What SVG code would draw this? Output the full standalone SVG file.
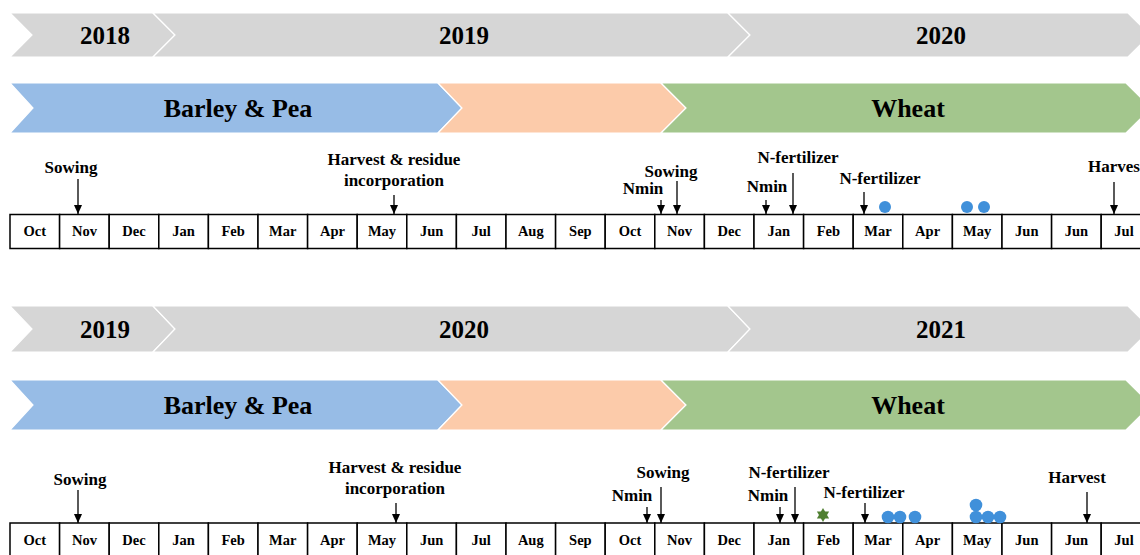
<svg xmlns="http://www.w3.org/2000/svg" width="1140" height="555" viewBox="0 0 1140 555">
  <style>
    text { font-family: "Liberation Serif", "Times New Roman", serif; font-weight: bold; fill: #000; text-anchor: middle; }
    .yr { font-size: 25px; }
    .crop { font-size: 26px; }
    .lbl { font-size: 17px; }
    .mon { font-size: 14.5px; }
    .seg { stroke: #ffffff; stroke-width: 1.2; }
    .gray { fill: #d6d6d6; }
    .blue { fill: #97bce6; }
    .peach { fill: #fccbaa; }
    .green { fill: #a3c68d; }
    .cell { fill: #ffffff; stroke: #000; stroke-width: 1.5; }
    .arr { stroke: #000; stroke-width: 1.3; fill: none; marker-end: url(#ah); }
    .dot { fill: #4090da; }
    .star { fill: #4f7f30; }
  </style>
  <defs>
    <marker id="ah" markerWidth="9" markerHeight="8" refX="9" refY="4" orient="auto" markerUnits="userSpaceOnUse">
      <path d="M0,0 L9,4 L0,8 Z" fill="#000"/>
    </marker>
    <!-- one row of month cells, 49.6 px each -->
    <g id="months">
      <rect class="cell" x="10" y="0" width="49.6" height="34"/>
      <rect class="cell" x="59.6" y="0" width="49.6" height="34"/>
      <rect class="cell" x="109.2" y="0" width="49.6" height="34"/>
      <rect class="cell" x="158.8" y="0" width="49.6" height="34"/>
      <rect class="cell" x="208.4" y="0" width="49.6" height="34"/>
      <rect class="cell" x="258" y="0" width="49.6" height="34"/>
      <rect class="cell" x="307.6" y="0" width="49.6" height="34"/>
      <rect class="cell" x="357.2" y="0" width="49.6" height="34"/>
      <rect class="cell" x="406.8" y="0" width="49.6" height="34"/>
      <rect class="cell" x="456.4" y="0" width="49.6" height="34"/>
      <rect class="cell" x="506" y="0" width="49.6" height="34"/>
      <rect class="cell" x="555.6" y="0" width="49.6" height="34"/>
      <rect class="cell" x="605.2" y="0" width="49.6" height="34"/>
      <rect class="cell" x="654.8" y="0" width="49.6" height="34"/>
      <rect class="cell" x="704.4" y="0" width="49.6" height="34"/>
      <rect class="cell" x="754" y="0" width="49.6" height="34"/>
      <rect class="cell" x="803.6" y="0" width="49.6" height="34"/>
      <rect class="cell" x="853.2" y="0" width="49.6" height="34"/>
      <rect class="cell" x="902.8" y="0" width="49.6" height="34"/>
      <rect class="cell" x="952.4" y="0" width="49.6" height="34"/>
      <rect class="cell" x="1002" y="0" width="49.6" height="34"/>
      <rect class="cell" x="1051.6" y="0" width="49.6" height="34"/>
      <rect class="cell" x="1101.2" y="0" width="49.6" height="34"/>
      <text class="mon" x="34.8" y="21.5">Oct</text>
      <text class="mon" x="84.4" y="21.5">Nov</text>
      <text class="mon" x="134" y="21.5">Dec</text>
      <text class="mon" x="183.6" y="21.5">Jan</text>
      <text class="mon" x="233.2" y="21.5">Feb</text>
      <text class="mon" x="282.8" y="21.5">Mar</text>
      <text class="mon" x="332.4" y="21.5">Apr</text>
      <text class="mon" x="382" y="21.5">May</text>
      <text class="mon" x="431.6" y="21.5">Jun</text>
      <text class="mon" x="481.2" y="21.5">Jul</text>
      <text class="mon" x="530.8" y="21.5">Aug</text>
      <text class="mon" x="580.4" y="21.5">Sep</text>
      <text class="mon" x="630" y="21.5">Oct</text>
      <text class="mon" x="679.6" y="21.5">Nov</text>
      <text class="mon" x="729.2" y="21.5">Dec</text>
      <text class="mon" x="778.8" y="21.5">Jan</text>
      <text class="mon" x="828.4" y="21.5">Feb</text>
      <text class="mon" x="878" y="21.5">Mar</text>
      <text class="mon" x="927.6" y="21.5">Apr</text>
      <text class="mon" x="977.2" y="21.5">May</text>
      <text class="mon" x="1026.8" y="21.5">Jun</text>
      <text class="mon" x="1076.4" y="21.5">Jun</text>
      <text class="mon" x="1124" y="21.5">Jul</text>
    </g>
  </defs>

  <!-- ===== first season: 2018-2020 ===== -->
  <g id="years-1">
    <polygon class="seg gray" points="10,13 153,13 175,35 153,57 10,57 32,35"/>
    <polygon class="seg gray" points="153,13 728,13 750,35 728,57 153,57 175,35"/>
    <polygon class="seg gray" points="728,13 1128,13 1150,35 1128,57 728,57 750,35"/>
    <text class="yr" x="105" y="43.5">2018</text>
    <text class="yr" x="464" y="43.5">2019</text>
    <text class="yr" x="941" y="43.5">2020</text>
  </g>
  <g id="crops-1">
    <polygon class="seg blue" points="10,83 438,83 462,108 438,133 10,133 33,108"/>
    <polygon class="seg peach" points="438,83 661,83 686,108 661,133 438,133 462,108"/>
    <polygon class="seg green" points="661,83 1126,83 1151,108 1126,133 661,133 686,108"/>
    <text class="crop" x="238" y="117">Barley &amp; Pea</text>
    <text class="crop" x="908" y="117">Wheat</text>
  </g>
  <g id="calendar-1">
    <use href="#months" y="214.5"/>
  </g>
  <g id="events-1">
    <text class="lbl" x="71" y="173">Sowing</text>
    <text class="lbl" x="394" y="165">Harvest &amp; residue</text>
    <text class="lbl" x="394" y="186">incorporation</text>
    <text class="lbl" x="643" y="194">Nmin</text>
    <text class="lbl" x="671" y="177">Sowing</text>
    <text class="lbl" x="767" y="192">Nmin</text>
    <text class="lbl" x="798" y="163">N-fertilizer</text>
    <text class="lbl" x="880" y="184">N-fertilizer</text>
    <text class="lbl" x="1088" y="172" style="text-anchor:start">Harves</text>
    <circle class="dot" cx="885" cy="207" r="6"/>
    <circle class="dot" cx="967" cy="207" r="6"/>
    <circle class="dot" cx="984" cy="207" r="6"/>
  </g>
  <g id="arrows-1">
    <line class="arr" x1="78" y1="179" x2="78" y2="214"/>
    <line class="arr" x1="394" y1="195" x2="394" y2="214"/>
    <line class="arr" x1="661" y1="200" x2="661" y2="214"/>
    <line class="arr" x1="677" y1="181" x2="677" y2="214"/>
    <line class="arr" x1="766" y1="200" x2="766" y2="214"/>
    <line class="arr" x1="793" y1="173" x2="793" y2="214"/>
    <line class="arr" x1="864" y1="192" x2="864" y2="214"/>
    <line class="arr" x1="1114" y1="182" x2="1114" y2="214"/>
  </g>

  <!-- ===== second season: 2019-2021 ===== -->
  <g id="years-2">
    <polygon class="seg gray" points="10,306 153,306 175,329 153,352 10,352 32,329"/>
    <polygon class="seg gray" points="153,306 728,306 750,329 728,352 153,352 175,329"/>
    <polygon class="seg gray" points="728,306 1128,306 1151,329 1128,352 728,352 750,329"/>
    <text class="yr" x="105" y="337.5">2019</text>
    <text class="yr" x="464" y="337.5">2020</text>
    <text class="yr" x="941" y="337.5">2021</text>
  </g>
  <g id="crops-2">
    <polygon class="seg blue" points="10,380 438,380 462,405 438,430 10,430 33,405"/>
    <polygon class="seg peach" points="438,380 661,380 686,405 661,430 438,430 462,405"/>
    <polygon class="seg green" points="661,380 1126,380 1151,405 1126,430 661,430 686,405"/>
    <text class="crop" x="238" y="414">Barley &amp; Pea</text>
    <text class="crop" x="908" y="414">Wheat</text>
  </g>
  <g id="calendar-2">
    <use href="#months" y="523"/>
  </g>
  <g id="events-2">
    <text class="lbl" x="80" y="485">Sowing</text>
    <text class="lbl" x="395" y="473">Harvest &amp; residue</text>
    <text class="lbl" x="395" y="494">incorporation</text>
    <text class="lbl" x="632" y="501">Nmin</text>
    <text class="lbl" x="663" y="478">Sowing</text>
    <text class="lbl" x="768" y="501">Nmin</text>
    <text class="lbl" x="789" y="478">N-fertilizer</text>
    <text class="lbl" x="864" y="498">N-fertilizer</text>
    <text class="lbl" x="1077" y="483">Harvest</text>
    <polygon class="star" points="823,508 829.1,518.5 816.9,518.5"/>
    <polygon class="star" points="823,522 829.1,511.5 816.9,511.5"/>
    <circle class="dot" cx="888" cy="517" r="6.3"/>
    <circle class="dot" cx="900" cy="517" r="6.3"/>
    <circle class="dot" cx="915" cy="517" r="6.3"/>
    <circle class="dot" cx="976" cy="505" r="6.3"/>
    <circle class="dot" cx="976" cy="517" r="6.3"/>
    <circle class="dot" cx="988" cy="517" r="6.3"/>
    <circle class="dot" cx="1000" cy="517" r="6.3"/>
  </g>
  <g id="arrows-2">
    <line class="arr" x1="78" y1="490" x2="78" y2="523"/>
    <line class="arr" x1="396" y1="503" x2="396" y2="523"/>
    <line class="arr" x1="647" y1="507" x2="647" y2="523"/>
    <line class="arr" x1="661" y1="487" x2="661" y2="523"/>
    <line class="arr" x1="780" y1="507" x2="780" y2="523"/>
    <line class="arr" x1="795" y1="487" x2="795" y2="523"/>
    <line class="arr" x1="865" y1="503" x2="865" y2="523"/>
    <line class="arr" x1="1087" y1="492" x2="1087" y2="523"/>
  </g>
</svg>
